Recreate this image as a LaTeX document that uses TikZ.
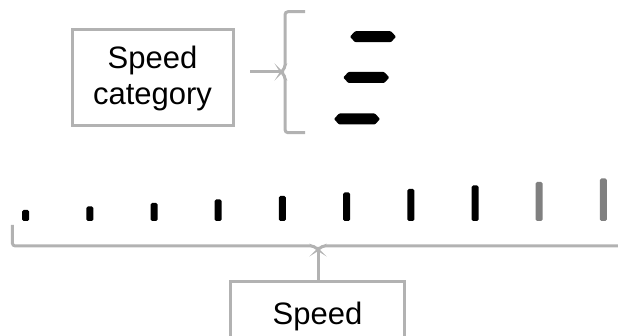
\documentclass[tikz,border=0pt]{standalone}
\usepackage{fontspec}
\setmainfont{Liberation Sans}
\definecolor{boxgray}{RGB}{178,178,178}
\definecolor{bargray}{RGB}{128,128,128}

\begin{document}
\begin{tikzpicture}[x=1pt,y=-1pt,
    labelbox/.style={draw=boxgray,line width=3pt,align=center,inner sep=0pt,font=\fontsize{31}{36}\selectfont},
    braceline/.style={draw=boxgray,line width=3pt,rounded corners=3pt}]
    \useasboundingbox (0,0) rectangle (618,336);

    % speed category
    \node[labelbox,minimum width=161pt,minimum height=96pt] (cat) at (152.5,78) {Speed\\category};
    \coordinate (cattip) at (281,72);
    \draw[braceline] (305,11.7) -- (285,11.7) -- (285,68) -- (cattip) -- (285,76) -- (285,132.7) -- (305,132.7);
    \draw[braceline] (cattip) -- ++(-31,0);
    \foreach \x/\y in {350/36.7, 343.3/77.5, 334/119} {
        \fill[rounded corners=1pt] (\x,\y) -- ++(5,-5.5) -- ++(36,0) -- ++(5,5.5) -- ++(-5,5.5) -- ++(-36,0) -- cycle;
    }

    % speed bars
    \foreach \i/\col in {1/black,2/black,3/black,4/black,5/black,6/black,7/black,8/black,9/bargray,10/bargray} {
        \fill[\col,rounded corners=1.5pt] ({25.6+(\i-1)*64.2-3.5},221) rectangle ({25.6+(\i-1)*64.2+3.5},{210-3.5*(\i-1)});
    }

    % speed
    \node[labelbox,text width=174pt,text height=42.3pt,text depth=27pt,anchor=base] (spd) at (317.5,324) {Speed};
    \coordinate (spdtip) at (318,250);
    \draw[braceline] (12.3,225) -- (12.3,246) -- (314,246) -- (spdtip) -- (322,246) -- (622,246);
    \draw[braceline,rounded corners=0pt] (spdtip) -- (spd.north -| spdtip);
\end{tikzpicture}
\end{document}
